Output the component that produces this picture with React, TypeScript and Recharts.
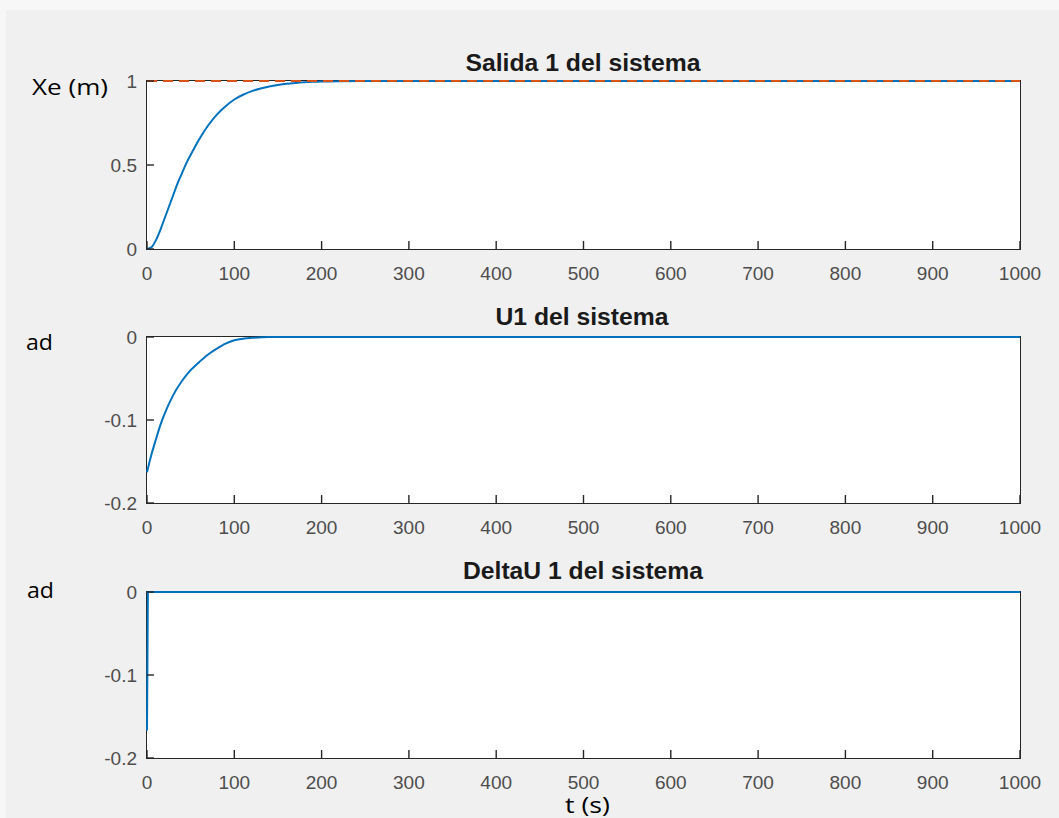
import React from 'react';
import { LineChart, Line, XAxis, YAxis } from 'recharts';

// ---------- data ----------
const xTicks = [0, 100, 200, 300, 400, 500, 600, 700, 800, 900, 1000];

// Subplot 1: Salida 1 del sistema
const t1 = [0, 5, 10, 15, 20, 25, 30, 35, 40, 45, 50, 60, 70, 80, 90, 100, 110, 120, 130, 140, 150, 160, 170, 180, 190, 200, 220, 250, 300, 1000];
const y1 = [0, 0.01, 0.05, 0.11, 0.18, 0.25, 0.32, 0.39, 0.45, 0.51, 0.56, 0.655, 0.735, 0.8, 0.85, 0.89, 0.918, 0.94, 0.955, 0.967, 0.976, 0.983, 0.988, 0.992, 0.995, 0.997, 0.999, 1, 1, 1];
const refT = [0, 1000];
const refY = [1, 1];

// Subplot 2: U1 del sistema
const t2 = [0, 5, 10, 15, 20, 30, 40, 50, 60, 70, 80, 90, 100, 110, 120, 140, 160, 200, 1000];
const y2 = [-0.163, -0.142, -0.124, -0.107, -0.093, -0.07, -0.053, -0.04, -0.03, -0.021, -0.014, -0.008, -0.004, -0.002, -0.001, 0, 0, 0, 0];

// Subplot 3: DeltaU 1 del sistema
const t3 = [0, 1, 5, 10, 20, 50, 120, 200, 1000];
const y3 = [-0.167, 0, 0, 0, 0, 0, 0, 0, 0];

const yTicks1 = [0, 0.5, 1];
const yTicks2 = [-0.2, -0.1, 0];
const yTicks3 = [-0.2, -0.1, 0];

const titles = ['Salida 1 del sistema', 'U1 del sistema', 'DeltaU 1 del sistema'];
const yLabels = ['Xe (m)', 'ad', 'ad'];
const xLabel = 't (s)';

// ---------- styles ----------
const AX = '#262626';
const TICK_COLOR = '#4d4d4d';
const TICK_FONT = '"Liberation Sans", Arial, Helvetica, sans-serif';
const LABEL_FONT = '"Open Sans", "Noto Sans", sans-serif';
const BLUE = '#0072BD';
const ORANGE = '#D95319';

const W = 1059;
const PLOT_LEFT = 147;
const PLOT_RIGHT = 1020;
const TOP_SPACE = 45;
const BOTTOM_SPACE = 45;

const toRows = (ts: number[], vs: number[]) => ts.map((t, i) => ({ t, v: vs[i] }));

const BottomTick = (props: any) => {
  const { x, y, payload } = props;
  return (
    <g>
      <line x1={x} x2={x} y1={y} y2={y - 8} stroke={AX} strokeWidth={1.4} />
      <text x={x} y={y + 31} textAnchor="middle" fontSize={19} fill={TICK_COLOR} fontFamily={TICK_FONT}>
        {String(payload.value)}
      </text>
    </g>
  );
};

const TopTick = (props: any) => {
  const { x, y } = props;
  return <line x1={x} x2={x} y1={y} y2={y + 8} stroke={AX} strokeWidth={1.4} />;
};

const LeftTick = (props: any) => {
  const { x, y, payload } = props;
  return (
    <g>
      <line x1={x} x2={x + 7} y1={y} y2={y} stroke={AX} strokeWidth={1.4} />
      <text x={x - 10} y={y} dy="0.36em" textAnchor="end" fontSize={19} fill={TICK_COLOR} fontFamily={TICK_FONT}>
        {String(payload.value)}
      </text>
    </g>
  );
};

const RightTick = (props: any) => {
  const { x, y } = props;
  return <line x1={x} x2={x - 7} y1={y} y2={y} stroke={AX} strokeWidth={1.4} />;
};

type PanelProps = {
  top: number;
  plotH: number;
  domain: [number, number];
  yTicks: number[];
  children: React.ReactNode;
};

const Frame = ({ top, plotH }: { top: number; plotH: number }) => (
  <div
    style={{
      position: 'absolute',
      left: PLOT_LEFT - 0.75,
      top: top - 0.75,
      width: PLOT_RIGHT - PLOT_LEFT + 1.5,
      height: plotH + 1.5,
      boxSizing: 'border-box',
      border: `1.5px solid ${AX}`,
      background: '#fff',
    }}
  />
);

const Panel = ({ top, plotH, domain, yTicks, children }: PanelProps) => (
  <div style={{ position: 'absolute', left: 0, top, width: W, height: TOP_SPACE + plotH + BOTTOM_SPACE }}>
    <LineChart
      width={W}
      height={TOP_SPACE + plotH + BOTTOM_SPACE}
      margin={{ top: TOP_SPACE - 1, right: W - PLOT_RIGHT - 1, bottom: 0, left: PLOT_LEFT - 1 }}
    >
      <XAxis
        xAxisId="b"
        dataKey="t"
        type="number"
        domain={[0, 1000]}
        ticks={xTicks}
        interval={0}
        orientation="bottom"
        height={BOTTOM_SPACE}
        tickSize={0}
        tickMargin={0}
        tickLine={false}
        axisLine={false}
        tick={<BottomTick />}
      />
      <XAxis
        xAxisId="t"
        dataKey="t"
        type="number"
        domain={[0, 1000]}
        ticks={xTicks}
        interval={0}
        orientation="top"
        height={1}
        tickSize={0}
        tickMargin={0}
        tickLine={false}
        axisLine={false}
        tick={<TopTick />}
      />
      <YAxis
        yAxisId="l"
        type="number"
        domain={domain}
        ticks={yTicks}
        interval={0}
        orientation="left"
        width={1}
        tickSize={0}
        tickMargin={0}
        tickLine={false}
        axisLine={false}
        tick={<LeftTick />}
      />
      <YAxis
        yAxisId="r"
        type="number"
        domain={domain}
        ticks={yTicks}
        interval={0}
        orientation="right"
        width={1}
        tickSize={0}
        tickMargin={0}
        tickLine={false}
        axisLine={false}
        tick={<RightTick />}
      />
      {children}
    </LineChart>
  </div>
);

export default function App() {
  return (
    <div style={{ position: 'absolute', left: 0, top: 0, width: W, height: 818, background: '#f7f7f7', overflow: 'hidden' }}>
      <div style={{ position: 'absolute', left: 6, top: 10, right: 0, bottom: 0, background: '#f0f0f0' }} />
      {/* white plot backgrounds with box */}
      <Frame top={81} plotH={168} />
      <Frame top={337} plotH={166} />
      <Frame top={592} plotH={166} />

      <Panel top={81 - TOP_SPACE} plotH={168} domain={[0, 1]} yTicks={yTicks1}>
        <Line xAxisId="b" yAxisId="l" data={toRows(t1, y1)} dataKey="v" type="monotone" stroke={BLUE} strokeWidth={2} dot={false} isAnimationActive={false} />
        <Line xAxisId="b" yAxisId="l" data={toRows(refT, refY)} dataKey="v" type="linear" stroke={ORANGE} strokeWidth={2.2} strokeDasharray="10 6" dot={false} isAnimationActive={false} />
      </Panel>
      <Panel top={337 - TOP_SPACE} plotH={166} domain={[-0.2, 0]} yTicks={yTicks2}>
        <Line xAxisId="b" yAxisId="l" data={toRows(t2, y2)} dataKey="v" type="monotone" stroke={BLUE} strokeWidth={2} dot={false} isAnimationActive={false} />
      </Panel>
      <Panel top={592 - TOP_SPACE} plotH={166} domain={[-0.2, 0]} yTicks={yTicks3}>
        <Line xAxisId="b" yAxisId="l" data={toRows(t3, y3)} dataKey="v" type="linear" stroke={BLUE} strokeWidth={2} dot={false} isAnimationActive={false} />
      </Panel>

      <svg width={W} height={818} style={{ position: 'absolute', left: 0, top: 0, pointerEvents: 'none' }}>
        <text x={583} y={71} textAnchor="middle" fontFamily={TICK_FONT} fontWeight="bold" fontSize={23} fill="#1a1a1a" textLength={235} lengthAdjust="spacingAndGlyphs">{titles[0]}</text>
        <text x={582} y={325} textAnchor="middle" fontFamily={TICK_FONT} fontWeight="bold" fontSize={23} fill="#1a1a1a" textLength={173} lengthAdjust="spacingAndGlyphs">{titles[1]}</text>
        <text x={583} y={579} textAnchor="middle" fontFamily={TICK_FONT} fontWeight="bold" fontSize={23} fill="#1a1a1a" textLength={240} lengthAdjust="spacingAndGlyphs">{titles[2]}</text>
        <text x={32} y={95} fontFamily={LABEL_FONT} fontSize={22} fill="#000" textLength={76} lengthAdjust="spacingAndGlyphs">{yLabels[0]}</text>
        <text x={26} y={350} fontFamily={LABEL_FONT} fontSize={22} fill="#000" textLength={27} lengthAdjust="spacingAndGlyphs">{yLabels[1]}</text>
        <text x={27} y={598} fontFamily={LABEL_FONT} fontSize={22} fill="#000" textLength={27} lengthAdjust="spacingAndGlyphs">{yLabels[2]}</text>
        <text x={565} y={813} fontFamily={LABEL_FONT} fontSize={22} fill="#000" textLength={45} lengthAdjust="spacingAndGlyphs">{xLabel}</text>
      </svg>
    </div>
  );
}
